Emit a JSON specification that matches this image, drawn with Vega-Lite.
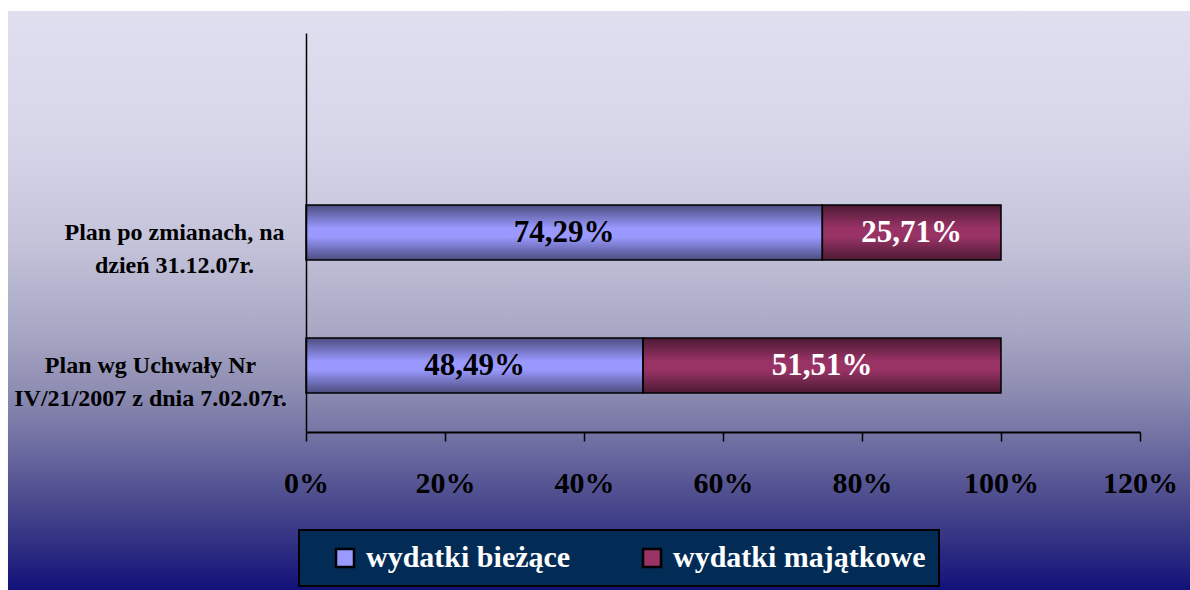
{
  "$schema": "https://vega.github.io/schema/vega-lite/v6.json",
  "width": 834,
  "height": 399,
  "autosize": {"type": "none"},
  "padding": {"left": 306, "top": 33, "right": 50, "bottom": 158},
  "background": "white",
  "config": {
    "view": {"stroke": null},
    "locale": {"number": {"decimal": ",", "thousands": " ", "grouping": [3], "currency": ["", " zł"]}},
    "legend": {"strokeWidth": 2}
  },
  "data": {"values": [
    {"plan": "Plan po zmianach, na\ndzień 31.12.07r.", "typ": "wydatki bieżące", "value": 0.7429},
    {"plan": "Plan po zmianach, na\ndzień 31.12.07r.", "typ": "wydatki majątkowe", "value": 0.2571},
    {"plan": "Plan wg Uchwały Nr\nIV/21/2007 z dnia 7.02.07r.", "typ": "wydatki bieżące", "value": 0.4849},
    {"plan": "Plan wg Uchwały Nr\nIV/21/2007 z dnia 7.02.07r.", "typ": "wydatki majątkowe", "value": 0.5151}
  ]},
  "layer": [
    {
      "data": {"values": [{"bg": 1}]},
      "mark": {"type": "rect", "clip": false, "fill": {"gradient": "linear", "x1": 0, "y1": 0, "x2": 0, "y2": 1, "stops": [
        {"offset": 0, "color": "#e0dff0"},
        {"offset": 0.2, "color": "#d8d7ea"},
        {"offset": 0.4, "color": "#c4c3da"},
        {"offset": 0.55, "color": "#a9a8c5"},
        {"offset": 0.65, "color": "#8f8eb3"},
        {"offset": 0.75, "color": "#6e6da1"},
        {"offset": 0.85, "color": "#4a498d"},
        {"offset": 0.93, "color": "#2d2c82"},
        {"offset": 1, "color": "#12117a"}
      ]}},
      "encoding": {
        "x": {"datum": -0.4288, "type": "quantitative", "title": null,
          "scale": {"domain": [0, 1.2], "nice": false, "zero": false},
          "axis": {"orient": "bottom", "values": [0, 0.2, 0.4, 0.6, 0.8, 1, 1.2], "format": ".0%", "grid": false, "zindex": 1,
            "domainColor": "black", "domainWidth": 2, "tickColor": "black", "tickWidth": 1.5, "tickSize": 9,
            "labelFont": "Liberation Serif", "labelFontWeight": "bold", "labelFontSize": 30, "labelColor": "black",
            "labelBaseline": "alphabetic", "labelPadding": 51, "labelFlush": false, "labelOverlap": false}},
        "x2": {"datum": 1.272},
        "y": {"datum": 1.05514, "type": "quantitative", "scale": {"domain": [0, 1], "nice": false, "zero": false}, "axis": null},
        "y2": {"datum": -0.39599}
      }
    },
    {
      "transform": [
        {"stack": "value", "groupby": ["plan"], "sort": [{"field": "typ", "order": "ascending"}], "as": ["x0", "x1"]},
        {"calculate": "(datum.x0 + datum.x1) / 2", "as": "xm"}
      ],
      "encoding": {
        "y": {"field": "plan", "type": "nominal", "title": null,
          "scale": {"domain": [" ", "Plan po zmianach, na\ndzień 31.12.07r.", "Plan wg Uchwały Nr\nIV/21/2007 z dnia 7.02.07r."], "paddingInner": 0.586, "paddingOuter": 0.293},
          "axis": {"zindex": 1, "ticks": false, "domainColor": "black", "domainWidth": 1.5,
            "labelExpr": "split(datum.label, '\\n')",
            "labelFont": "Liberation Serif", "labelFontWeight": "bold", "labelFontSize": 24, "labelColor": "black",
            "labelLineHeight": 33, "labelAlign": "center", "labelBaseline": "middle", "labelLimit": 400,
            "labelPadding": {"condition": {"test": "indexof(datum.value, 'zmianach') >= 0", "value": 132}, "value": 156}}}
      },
      "layer": [
        {
          "mark": {"type": "bar", "stroke": null},
          "encoding": {
            "x": {"field": "x0", "type": "quantitative", "title": null,
              "scale": {"domain": [0, 1.2], "nice": false, "zero": false},
              "axis": {"orient": "bottom", "values": [0, 0.2, 0.4, 0.6, 0.8, 1, 1.2], "format": ".0%", "grid": false, "zindex": 1,
                "domainColor": "black", "domainWidth": 2, "tickColor": "black", "tickWidth": 1.5, "tickSize": 9,
                "labelFont": "Liberation Serif", "labelFontWeight": "bold", "labelFontSize": 30, "labelColor": "black",
                "labelBaseline": "alphabetic", "labelPadding": 51, "labelFlush": false, "labelOverlap": false}},
            "x2": {"field": "x1"},
            "color": {"field": "typ", "type": "nominal",
              "scale": {"domain": ["wydatki bieżące", "wydatki majątkowe"], "range": ["#9999ff", "#993366"]},
              "legend": {"orient": "none", "legendX": -7, "legendY": 497, "direction": "horizontal", "title": null,
                "labelFont": "Liberation Serif", "labelFontWeight": "bold", "labelFontSize": 30, "labelColor": "white",
                "labelLimit": 400,
                "symbolType": "square", "symbolSize": 324, "symbolStrokeColor": "black", "symbolStrokeWidth": 2.5, "symbolOpacity": 1,
                "symbolOffset": 18, "labelOffset": 6, "columnPadding": 48, "padding": 13,
                "fillColor": "#022b56",
                "strokeColor": "black"}}
          }
        },
        {
          "mark": {"type": "bar", "stroke": "black", "strokeWidth": 1.5,
            "fill": {"gradient": "linear", "x1": 0, "y1": 0, "x2": 0, "y2": 1, "stops": [
              {"offset": 0, "color": "rgba(0,0,0,0.5)"},
              {"offset": 0.42, "color": "rgba(0,0,0,0)"},
              {"offset": 0.58, "color": "rgba(0,0,0,0)"},
              {"offset": 1, "color": "rgba(0,0,0,0.5)"}]}},
          "encoding": {
            "x": {"field": "x0", "type": "quantitative", "title": null, "scale": {"domain": [0, 1.2], "nice": false, "zero": false}},
            "x2": {"field": "x1"}
          }
        },
        {
          "mark": {"type": "text", "font": "Liberation Serif", "fontWeight": "bold", "fontSize": 31, "baseline": "middle", "align": "center"},
          "encoding": {
            "x": {"field": "xm", "type": "quantitative", "title": null, "scale": {"domain": [0, 1.2], "nice": false, "zero": false}},
            "text": {"field": "value", "type": "quantitative", "format": ".2%"},
            "color": {"condition": {"test": "datum.typ == 'wydatki majątkowe'", "value": "white"}, "value": "black"}
          }
        }
      ]
    }
  ],
  "resolve": {"scale": {"y": "independent"}}
}
